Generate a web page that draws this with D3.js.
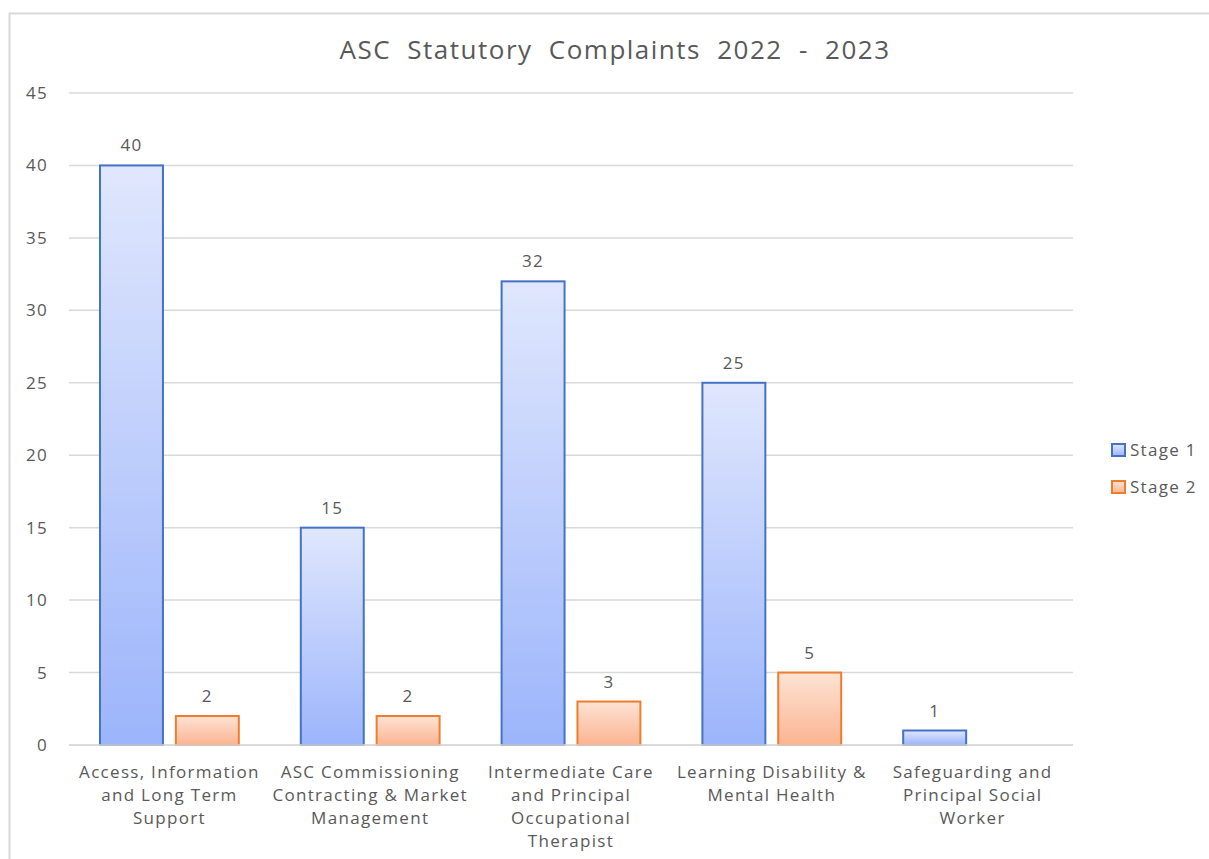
<!DOCTYPE html>
<html>
<head>
<meta charset="utf-8">
<script src="https://cdn.jsdelivr.net/npm/d3@7"></script>
<style>
  body { margin: 0; background: #fff; }
  svg { display: block; font-family: "Open Sans", sans-serif; }
</style>
</head>
<body>
<div class="chart"></div>
<script>
(function() {
  var categories = [
    ["Access, Information", "and Long Term", "Support"],
    ["ASC Commissioning", "Contracting & Market", "Management"],
    ["Intermediate Care", "and Principal", "Occupational", "Therapist"],
    ["Learning Disability &", "Mental Health"],
    ["Safeguarding and", "Principal Social", "Worker"]
  ];
  var stage1 = [40, 15, 32, 25, 1];
  var stage2 = [2, 2, 3, 5, null];
  var seriesNames = ["Stage 1", "Stage 2"];
  var yTicks = [0, 5, 10, 15, 20, 25, 30, 35, 40, 45];

  var width = 1209, height = 859,
    plot = { left: 69, right: 1073, top: 93, bottom: 745 },
    fs = 17, ls = 1.3;

  var svg = d3.select(".chart").append("svg")
    .attr("width", width)
    .attr("height", height);

  // chart frame (runs off the right and bottom)
  svg.append("rect")
    .attr("x", 9.5).attr("y", 13.5)
    .attr("width", 1250).attr("height", 900)
    .attr("fill", "#fff")
    .attr("stroke", "#d9d9d9")
    .attr("stroke-width", 2);

  var defs = svg.append("defs");
  var grads = [
    { id: "g1", top: "#e0e7fd", bottom: "#9cb5fb", stroke: "#4472c4" },
    { id: "g2", top: "#fde3d4", bottom: "#fbb491", stroke: "#ed7d31" }
  ];
  grads.forEach(function(d) {
    var lg = defs.append("linearGradient").attr("id", d.id)
      .attr("x1", 0).attr("y1", 0).attr("x2", 0).attr("y2", 1);
    lg.append("stop").attr("offset", "0%").attr("stop-color", d.top);
    lg.append("stop").attr("offset", "100%").attr("stop-color", d.bottom);
  });

  var x = d3.scaleBand()
    .domain(d3.range(categories.length))
    .range([plot.left, plot.right])
    .paddingInner(0).paddingOuter(0);
  var inner = d3.scaleBand()
    .domain([0, 1])
    .range([31, x.bandwidth() - 31])
    .paddingInner(0.17);
  var y = d3.scaleLinear().domain([0, 45]).range([plot.bottom, plot.top]);

  // gridlines
  svg.append("g").selectAll("line")
    .data(yTicks).enter()
    .append("line")
      .attr("x1", plot.left).attr("x2", plot.right)
      .attr("y1", function(d) { return y(d); })
      .attr("y2", function(d) { return y(d); })
      .attr("stroke", "#d9d9d9")
      .attr("stroke-width", 1.5);

  // y tick labels
  svg.append("g").selectAll("text")
    .data(yTicks).enter()
    .append("text")
      .attr("x", 48)
      .attr("y", function(d) { return y(d); })
      .attr("dy", "0.35em")
      .attr("text-anchor", "end")
      .attr("font-size", fs)
      .attr("letter-spacing", ls)
      .attr("fill", "#595959")
      .text(function(d) { return d; });

  var series = [stage1, stage2];
  series.forEach(function(vals, si) {
    var g = svg.append("g");
    var data = vals.map(function(v, i) { return { i: i, v: v }; })
      .filter(function(d) { return d.v != null; });
    g.selectAll("rect")
      .data(data).enter()
      .append("rect")
        .attr("x", function(d) { return x(d.i) + inner(si); })
        .attr("y", function(d) { return y(d.v); })
        .attr("width", inner.bandwidth())
        .attr("height", function(d) { return y(0) - y(d.v); })
        .attr("fill", "url(#" + grads[si].id + ")")
        .attr("stroke", grads[si].stroke)
        .attr("stroke-width", 2);
    g.selectAll("text")
      .data(data).enter()
      .append("text")
        .attr("x", function(d) { return x(d.i) + inner(si) + inner.bandwidth() / 2; })
        .attr("y", function(d) { return y(d.v) - 14; })
        .attr("text-anchor", "middle")
        .attr("font-size", fs)
        .attr("letter-spacing", ls)
        .attr("fill", "#595959")
        .text(function(d) { return d.v; });
  });

  // zero line on top
  svg.append("line")
    .attr("x1", plot.left).attr("x2", plot.right)
    .attr("y1", y(0)).attr("y2", y(0))
    .attr("stroke", "#d9d9d9").attr("stroke-width", 1.5);

  // category labels
  var cl = svg.append("g").selectAll("text")
    .data(categories).enter()
    .append("text")
      .attr("x", function(d, i) { return x(i) + x.bandwidth() / 2; })
      .attr("y", 778)
      .attr("text-anchor", "middle")
      .attr("font-size", fs)
      .attr("letter-spacing", ls)
      .attr("fill", "#595959");
  cl.selectAll("tspan")
    .data(function(d) { return d; }).enter()
    .append("tspan")
      .attr("x", function() { return d3.select(this.parentNode).attr("x"); })
      .attr("dy", function(d, j) { return j === 0 ? 0 : 23; })
      .text(function(d) { return d; });

  // title
  svg.append("text")
    .attr("x", 615).attr("y", 59)
    .attr("text-anchor", "middle")
    .attr("font-size", 26)
    .attr("letter-spacing", 1.5)
    .attr("word-spacing", 8)
    .attr("fill", "#595959")
    .text("ASC Statutory Complaints 2022 - 2023");

  // legend
  var lg = svg.append("g").selectAll("g")
    .data(seriesNames).enter()
    .append("g")
      .attr("transform", function(d, i) { return "translate(1112," + (450 + i * 37) + ")"; });
  lg.append("rect")
    .attr("x", 0).attr("y", -6).attr("width", 13).attr("height", 12)
    .attr("fill", function(d, i) { return "url(#" + grads[i].id + ")"; })
    .attr("stroke", function(d, i) { return grads[i].stroke; })
    .attr("stroke-width", 2);
  lg.append("text")
    .attr("x", 18).attr("dy", "0.35em")
    .attr("font-size", fs)
    .attr("letter-spacing", ls)
    .attr("fill", "#595959")
    .text(function(d) { return d; });
})();
</script>
</body>
</html>
